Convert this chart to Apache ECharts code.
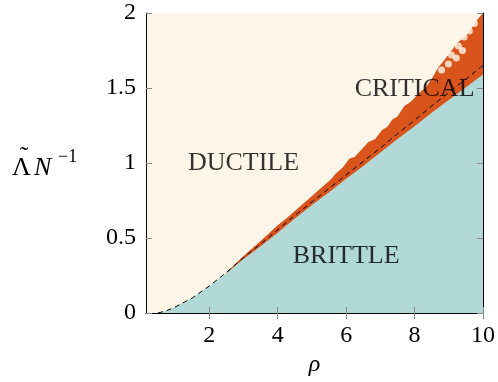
<!DOCTYPE html>
<html>
<head>
<meta charset="utf-8">
<script src="https://cdn.jsdelivr.net/npm/echarts@6/dist/echarts.min.js"></script>
<style>
  html, body { margin: 0; padding: 0; background: #fff; }
  #chart { width: 498px; height: 382px; }
</style>
</head>
<body>
<div id="chart"></div>
<script>
// dashed theory curve
var theoryRho = [0.5, 0.75, 1, 1.5, 2, 2.5, 3, 3.5, 4, 4.5, 5, 5.5, 6, 6.5, 7, 7.5, 8, 8.5, 9, 9.5, 10];
var theoryVal = [0, 0.015, 0.04, 0.1, 0.18, 0.27, 0.37, 0.46, 0.555, 0.65, 0.74, 0.83, 0.92, 1.01, 1.1, 1.195, 1.285, 1.38, 1.47, 1.56, 1.65];
// top of the brittle (teal) region
var brittleVal = [0, 0.015, 0.04, 0.1, 0.18, 0.265, 0.36, 0.445, 0.535, 0.63, 0.72, 0.805, 0.895, 0.98, 1.07, 1.16, 1.245, 1.335, 1.42, 1.505, 1.59];
// ragged top of the critical (orange) band
var criticalRho = [2.5, 3, 3.5, 4, 4.25, 4.5, 4.7, 4.95, 5.2, 5.4, 5.55, 5.7, 5.9, 6.1, 6.25, 6.45, 6.65, 6.85, 7.05, 7.2, 7.35, 7.5, 7.7, 7.9, 8.15, 8.35, 8.55, 8.7, 8.85, 9.05, 9.25, 9.5, 9.7, 9.85, 10];
var criticalTop = [0.27, 0.38, 0.48, 0.585, 0.63, 0.68, 0.72, 0.77, 0.82, 0.86, 0.89, 0.93, 0.97, 1.03, 1.04, 1.09, 1.14, 1.16, 1.22, 1.24, 1.29, 1.31, 1.38, 1.41, 1.47, 1.51, 1.58, 1.64, 1.68, 1.74, 1.8, 1.85, 1.91, 1.96, 2.0];
// ductile holes inside the critical band
var holeRho = [9.45, 9.28, 9.08, 8.99, 8.79, 9.22, 9.6, 9.75, 9.4];
var holeVal = [1.84, 1.78, 1.72, 1.66, 1.62, 1.70, 1.88, 1.93, 1.75];
// region labels
var regionNames = ["DUCTILE", "BRITTLE", "CRITICAL"];
var regionRho = [3.0, 6.0, 8.0];
var regionVal = [1.0, 0.38, 1.49];
var xTicks = [2, 4, 6, 8, 10];

var font = "Liberation Serif";
var cream = "#fdf6e8", teal = "#b1d9d8", orange = "#d9541a";

function pairs(xs, ys) {
  return xs.map(function (x, i) { return [x, ys[i]]; });
}

var chart = echarts.init(document.getElementById("chart"));

var tickStyle = { show: true, inside: true, length: 6, lineStyle: { color: "#888", width: 1 } };
var lineStyle = { show: true, lineStyle: { color: "#000", width: 1 } };

function txt(s, x, y, size, extra) {
  return {
    type: "text", x: x, y: y, z: 10,
    style: Object.assign({ text: s, fontFamily: font, fontSize: size, fill: "#000", verticalAlign: "bottom" }, extra || {})
  };
}

chart.setOption({
  animation: false,
  grid: { left: 146, right: 11, top: 13, bottom: 69, show: true, backgroundColor: cream, borderWidth: 0 },
  xAxis: [
    {
      type: "value", min: 0.15, max: 10, position: "bottom", z: 5,
      axisLine: lineStyle,
      axisTick: Object.assign({ customValues: xTicks }, tickStyle),
      axisLabel: { customValues: xTicks, fontFamily: font, fontSize: 24, color: "#000", margin: 11 },
      splitLine: { show: false },
      name: "ρ", nameLocation: "middle", nameGap: 40,
      nameTextStyle: { fontFamily: font, fontSize: 24, fontStyle: "italic", color: "#000" }
    },
    {
      type: "value", min: 0.15, max: 10, position: "top", z: 5,
      axisLine: lineStyle,
      axisTick: Object.assign({ customValues: xTicks }, tickStyle),
      axisLabel: { show: false },
      splitLine: { show: false }
    }
  ],
  yAxis: [
    {
      type: "value", min: 0, max: 2, interval: 0.5, position: "left", z: 5,
      axisLine: lineStyle,
      axisTick: tickStyle,
      axisLabel: { fontFamily: font, fontSize: 24, color: "#000", margin: 10 },
      splitLine: { show: false }
    },
    {
      type: "value", min: 0, max: 2, interval: 0.5, position: "right", z: 5,
      axisLine: lineStyle,
      axisTick: tickStyle,
      axisLabel: { show: false },
      splitLine: { show: false }
    }
  ],
  // y axis title: tilde-Lambda N^{-1}
  graphic: [
    txt("Λ", 12, 181, 26),
    txt("˜", 24, 170, 26, { align: "center" }),
    txt("N", 34, 181, 26, { fontStyle: "italic" }),
    txt("−1", 58, 166, 18)
  ],
  series: [
    {
      name: "critical", type: "line", data: pairs(criticalRho, criticalTop),
      showSymbol: false, lineStyle: { width: 0 },
      areaStyle: { color: orange, opacity: 1 }, z: 2
    },
    {
      name: "holes", type: "scatter", data: pairs(holeRho, holeVal),
      symbolSize: 7, itemStyle: { color: cream }, z: 3
    },
    {
      name: "brittle", type: "line", data: pairs(theoryRho, brittleVal),
      showSymbol: false, lineStyle: { width: 0 },
      areaStyle: { color: teal, opacity: 1 }, z: 4
    },
    {
      name: "theory", type: "line", data: pairs(theoryRho, theoryVal),
      showSymbol: false,
      lineStyle: { color: "#000", width: 1, type: [5, 4] }, z: 6
    },
    {
      name: "labels", type: "scatter", symbolSize: 0, z: 7,
      data: regionRho.map(function (x, i) { return { value: [x, regionVal[i]], name: regionNames[i] }; }),
      label: {
        show: true, position: "inside", formatter: "{b}",
        fontFamily: font, fontSize: 26, color: "#000"
      }
    }
  ]
});
</script>
</body>
</html>
